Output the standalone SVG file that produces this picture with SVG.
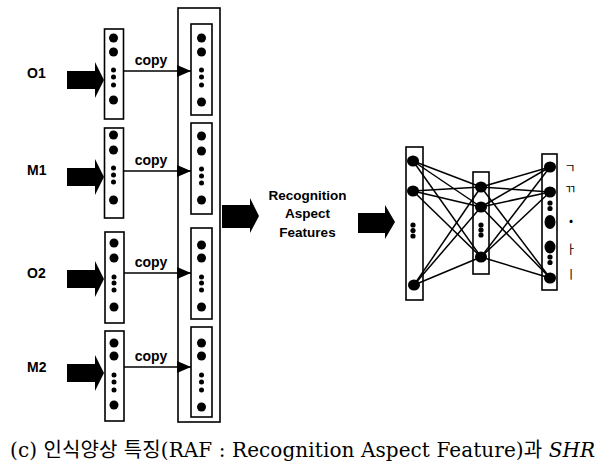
<svg xmlns="http://www.w3.org/2000/svg" xmlns:xlink="http://www.w3.org/1999/xlink" width="598" height="467" viewBox="0 0 598 467">
<style>
.box{fill:#fff;stroke:#000;stroke-width:1.6}
.outer{fill:none;stroke:#000;stroke-width:1.6}
.lbl{font-family:'Liberation Sans',Arial,sans-serif;font-weight:bold;font-size:14px;fill:#000}
.copy{font-family:'Liberation Sans',Arial,sans-serif;font-weight:bold;font-size:14px;fill:#000;text-anchor:middle}
.raf{font-family:'Liberation Sans',Arial,sans-serif;font-weight:bold;font-size:13.5px;fill:#000;text-anchor:middle}
.cap{font-family:'DejaVu Serif','Noto Sans CJK KR',serif;font-size:20px;fill:#000}
.jamo{font-family:'Noto Sans CJK KR',sans-serif;font-size:12px;fill:#000;text-anchor:middle}
.conn{stroke:#000;stroke-width:1.6;fill:none}
.net{stroke:#000;stroke-width:1.5}
.dot{fill:#000}
</style>
<defs>
<path id="bigArrow" d="M0,-9 H28 V-18 L37,0 L28,18 V9 H0 Z" fill="#000"/>
<marker id="tri" markerUnits="userSpaceOnUse" markerWidth="14" markerHeight="12" refX="14" refY="6" orient="auto">
<path d="M0,0 L14,6 L0,12 Z" fill="#000"/>
</marker>
</defs>
<rect width="598" height="467" fill="#fff"/>

<g id="container">
<rect class="outer" x="178" y="8" width="42" height="414"/>
</g>

<g id="input-O1">
<text class="lbl" x="27" y="78">O1</text>
<use xlink:href="#bigArrow" x="67" y="80"/>
<rect class="box" x="104.5" y="29" width="19" height="90"/>
<circle class="dot" cx="113.5" cy="38" r="4.5"/><circle class="dot" cx="113.5" cy="52" r="4.5"/>
<circle class="dot" cx="113.5" cy="70" r="2.5"/><circle class="dot" cx="113.5" cy="77" r="2.5"/><circle class="dot" cx="113.5" cy="85" r="2.5"/>
<circle class="dot" cx="113.5" cy="100" r="4.5"/>
</g>
<g id="input-M1">
<text class="lbl" x="27" y="175">M1</text>
<use xlink:href="#bigArrow" x="67" y="177"/>
<rect class="box" x="104.5" y="128" width="19" height="90"/>
<circle class="dot" cx="113.5" cy="135" r="4.5"/><circle class="dot" cx="113.5" cy="150" r="4.5"/>
<circle class="dot" cx="113.5" cy="168" r="2.5"/><circle class="dot" cx="113.5" cy="175" r="2.5"/><circle class="dot" cx="113.5" cy="182" r="2.5"/>
<circle class="dot" cx="113.5" cy="200" r="4.5"/>
</g>
<g id="input-O2">
<text class="lbl" x="27" y="278">O2</text>
<use xlink:href="#bigArrow" x="67" y="279"/>
<rect class="box" x="105" y="232" width="19" height="91"/>
<circle class="dot" cx="114" cy="243" r="4.5"/><circle class="dot" cx="114" cy="258" r="4.5"/>
<circle class="dot" cx="114" cy="277" r="2.5"/><circle class="dot" cx="114" cy="283" r="2.5"/><circle class="dot" cx="114" cy="290" r="2.5"/>
<circle class="dot" cx="114" cy="307" r="4.5"/>
</g>
<g id="input-M2">
<text class="lbl" x="27" y="372">M2</text>
<use xlink:href="#bigArrow" x="67" y="373"/>
<rect class="box" x="105" y="331" width="19" height="90"/>
<circle class="dot" cx="114" cy="343" r="4.5"/><circle class="dot" cx="114" cy="356" r="4.5"/>
<circle class="dot" cx="114" cy="375" r="2.5"/><circle class="dot" cx="114" cy="382" r="2.5"/><circle class="dot" cx="114" cy="390" r="2.5"/>
<circle class="dot" cx="114" cy="405" r="4.5"/>
</g>

<g id="copy-O1">
<rect class="box" x="191" y="24" width="21" height="91"/>
<circle class="dot" cx="201.5" cy="38" r="4.5"/><circle class="dot" cx="201.5" cy="52" r="4.5"/>
<circle class="dot" cx="201.5" cy="70" r="2.5"/><circle class="dot" cx="201.5" cy="77" r="2.5"/><circle class="dot" cx="201.5" cy="85" r="2.5"/>
<circle class="dot" cx="201.5" cy="102" r="4.5"/>
</g>
<g id="copy-M1">
<rect class="box" x="191" y="123" width="21" height="91"/>
<circle class="dot" cx="201.5" cy="136" r="4.5"/><circle class="dot" cx="201.5" cy="151" r="4.5"/>
<circle class="dot" cx="201.5" cy="169" r="2.5"/><circle class="dot" cx="201.5" cy="176" r="2.5"/><circle class="dot" cx="201.5" cy="183" r="2.5"/>
<circle class="dot" cx="201.5" cy="200" r="4.5"/>
</g>
<g id="copy-O2">
<rect class="box" x="191" y="228" width="21" height="91"/>
<circle class="dot" cx="201.5" cy="245" r="4.5"/><circle class="dot" cx="201.5" cy="258" r="4.5"/>
<circle class="dot" cx="201.5" cy="277" r="2.5"/><circle class="dot" cx="201.5" cy="283" r="2.5"/><circle class="dot" cx="201.5" cy="290" r="2.5"/>
<circle class="dot" cx="201.5" cy="307" r="4.5"/>
</g>
<g id="copy-M2">
<rect class="box" x="191" y="327" width="21" height="90"/>
<circle class="dot" cx="201.5" cy="343" r="4.5"/><circle class="dot" cx="201.5" cy="356" r="4.5"/>
<circle class="dot" cx="201.5" cy="375" r="2.5"/><circle class="dot" cx="201.5" cy="382" r="2.5"/><circle class="dot" cx="201.5" cy="390" r="2.5"/>
<circle class="dot" cx="201.5" cy="407" r="4.5"/>
</g>

<g id="connectors">
<line class="conn" x1="123.5" y1="71" x2="191" y2="71" marker-end="url(#tri)"/>
<line class="conn" x1="123.5" y1="171" x2="191" y2="171" marker-end="url(#tri)"/>
<line class="conn" x1="124" y1="273" x2="191" y2="273" marker-end="url(#tri)"/>
<line class="conn" x1="124" y1="367" x2="191" y2="367" marker-end="url(#tri)"/>
<text class="copy" x="151" y="65">copy</text>
<text class="copy" x="151" y="165">copy</text>
<text class="copy" x="151" y="267">copy</text>
<text class="copy" x="151" y="361">copy</text>
<path d="M222,205 H250 V198 L259,216 L250,233 V228 H222 Z" fill="#000"/>
<path d="M358,213 H385 V205 L395,222 L385,239 V233 H358 Z" fill="#000"/>
</g>

<g id="raf-label">
<text class="raf" x="307.5" y="200">Recognition</text>
<text class="raf" x="307.5" y="218">Aspect</text>
<text class="raf" x="307.5" y="237">Features</text>
</g>

<g id="net-boxes">
<rect class="box" x="406" y="147" width="17" height="153"/>
<rect class="box" x="473" y="172" width="16" height="102"/>
<rect class="box" x="542" y="154" width="15" height="136"/>
</g>
<g id="net-links">
<line class="net" x1="413" y1="161" x2="481" y2="187"/>
<line class="net" x1="413" y1="161" x2="481" y2="207"/>
<line class="net" x1="413" y1="161" x2="481" y2="257"/>
<line class="net" x1="413" y1="191" x2="481" y2="187"/>
<line class="net" x1="413" y1="191" x2="481" y2="207"/>
<line class="net" x1="413" y1="191" x2="481" y2="257"/>
<line class="net" x1="414" y1="285" x2="481" y2="187"/>
<line class="net" x1="414" y1="285" x2="481" y2="207"/>
<line class="net" x1="414" y1="285" x2="481" y2="257"/>
<line class="net" x1="481" y1="187" x2="550" y2="167"/>
<line class="net" x1="481" y1="187" x2="550" y2="192"/>
<line class="net" x1="481" y1="187" x2="550" y2="278"/>
<line class="net" x1="481" y1="207" x2="550" y2="167"/>
<line class="net" x1="481" y1="207" x2="550" y2="192"/>
<line class="net" x1="481" y1="207" x2="550" y2="278"/>
<line class="net" x1="481" y1="257" x2="550" y2="167"/>
<line class="net" x1="481" y1="257" x2="550" y2="192"/>
<line class="net" x1="481" y1="257" x2="550" y2="278"/>
</g>
<g id="net-layer-in">
<ellipse class="dot" cx="413" cy="161" rx="6" ry="5.5"/>
<ellipse class="dot" cx="413" cy="191" rx="6" ry="5.5"/>
<ellipse class="dot" cx="414" cy="285" rx="6" ry="5.5"/>
<circle class="dot" cx="413" cy="225" r="2.6"/><circle class="dot" cx="413" cy="230.5" r="2.6"/><circle class="dot" cx="413" cy="236" r="2.6"/>
</g>
<g id="net-layer-hidden">
<ellipse class="dot" cx="481" cy="187" rx="6" ry="5.5"/>
<ellipse class="dot" cx="481" cy="207" rx="6" ry="5.5"/>
<ellipse class="dot" cx="481" cy="257" rx="6" ry="5.5"/>
<circle class="dot" cx="481" cy="225" r="2.6"/><circle class="dot" cx="481" cy="230" r="2.6"/><circle class="dot" cx="481" cy="235" r="2.6"/>
</g>
<g id="net-layer-out">
<ellipse class="dot" cx="550" cy="167" rx="6" ry="5.5"/>
<ellipse class="dot" cx="550" cy="192" rx="6" ry="5.5"/>
<circle class="dot" cx="550" cy="203" r="2.6"/><circle class="dot" cx="550" cy="208.5" r="2.6"/>
<ellipse class="dot" cx="550" cy="222" rx="5.5" ry="7"/>
<ellipse class="dot" cx="550" cy="247" rx="5.5" ry="6.5"/>
<circle class="dot" cx="550" cy="257" r="2.6"/><circle class="dot" cx="550" cy="262.5" r="2.6"/>
<ellipse class="dot" cx="550" cy="278" rx="6" ry="5.5"/>
</g>
<g id="out-labels">
<text class="jamo" x="570" y="173">ㄱ</text>
<text class="jamo" x="570" y="194">ㄲ</text>
<text class="jamo" x="571" y="225">•</text>
<text class="jamo" x="571" y="254">ㅏ</text>
<text class="jamo" x="571" y="279">ㅣ</text>
</g>

<g id="caption">
<text class="cap" x="10" y="457" textLength="585" lengthAdjust="spacing">(c) 인식양상 특징(RAF : Recognition Aspect Feature)과 <tspan font-style="italic">SHR</tspan></text>
</g>
</svg>
